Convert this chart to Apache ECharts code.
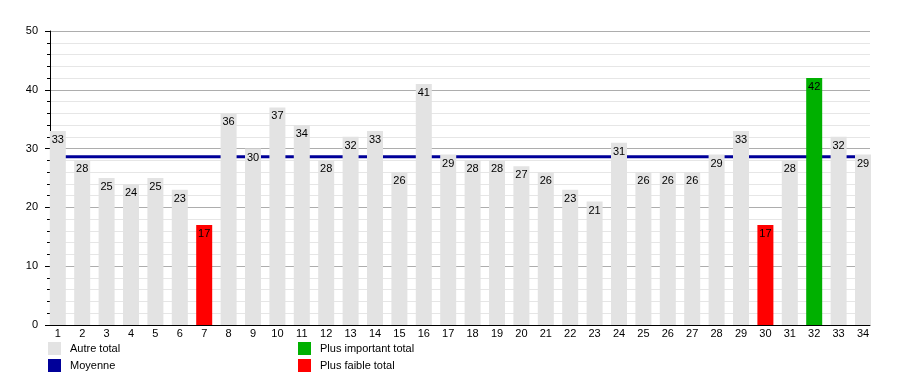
<!DOCTYPE html>
<html>
<head>
<meta charset="utf-8">
<script src="https://cdn.jsdelivr.net/npm/echarts@6/dist/echarts.min.js"></script>
<style>html,body{margin:0;padding:0;background:#fff}#c{width:900px;height:375px}</style>
</head>
<body>
<div id="c"></div>
<script>
const categories = ['1','2','3','4','5','6','7','8','9','10','11','12','13','14','15','16','17','18','19','20','21','22','23','24','25','26','27','28','29','30','31','32','33','34'];
const totals = [33,28,25,24,25,23,17,36,30,37,34,28,32,33,26,41,29,28,28,27,26,23,21,31,26,26,26,29,33,17,28,42,32,29];
const meanValue = 28.6;
const yTicks = [0,10,20,30,40,50];
const seriesNames = ['Autre total','Plus important total','Plus faible total','Moyenne'];

const maxV = Math.max(...totals), minV = Math.min(...totals);
const other = totals.map(v => (v !== maxV && v !== minV) ? v : null);
const highest = totals.map(v => v === maxV ? v : null);
const lowest = totals.map(v => v === minV ? v : null);

const FONT = 'Liberation Sans, Arial, sans-serif';
const step = 24.4;
const plotLeft = 50, plotRight = 870;
const barGridLeft = plotLeft - (step - 16) / 2 - 0.2;

const labelCfg = {show: true, position: 'insideTop', distance: 3.5, fontSize: 11, color: '#000', fontFamily: FONT};

const chart = echarts.init(document.getElementById('c'), null, {renderer: 'canvas'});
chart.setOption({
  animation: false,
  textStyle: {fontFamily: FONT},
  grid: [
    {left: plotLeft, right: 900 - plotRight, top: 31, bottom: 50},
    {left: barGridLeft, width: step * categories.length, top: 31, bottom: 50}
  ],
  xAxis: [
    {type: 'value', gridIndex: 0, min: 0, max: 1, axisLine: {show: true, onZero: false, lineStyle: {color: '#000', width: 1}},
     axisTick: {show: false}, axisLabel: {show: false}, splitLine: {show: false}},
    {type: 'category', gridIndex: 1, data: categories, boundaryGap: true,
     axisLine: {show: false}, axisTick: {show: false},
     axisLabel: {fontSize: 11, color: '#000', margin: 3, interval: 0, fontFamily: FONT}}
  ],
  yAxis: [
    {type: 'value', gridIndex: 0, min: yTicks[0], max: yTicks[yTicks.length - 1], interval: 10,
     axisLine: {show: true, lineStyle: {color: '#000'}},
     axisTick: {show: true, length: 5, lineStyle: {color: '#000'}},
     minorTick: {show: true, splitNumber: 5, length: 3, lineStyle: {color: '#000'}},
     axisLabel: {fontSize: 11, color: '#000', margin: 12, fontFamily: FONT},
     splitLine: {show: true, lineStyle: {color: '#adadad', width: 1}},
     minorSplitLine: {show: true, lineStyle: {color: '#e6e6e6', width: 1}}},
    {type: 'value', gridIndex: 1, min: yTicks[0], max: yTicks[yTicks.length - 1], show: false,
     splitLine: {show: false}}
  ],
  legend: [
    {left: 48, top: 342, orient: 'vertical', icon: 'rect', itemWidth: 13, itemHeight: 13, itemGap: 4, padding: 0,
     data: [seriesNames[0], seriesNames[3]], textStyle: {fontSize: 11, color: '#000', padding: [3,0,0,4], fontFamily: FONT}},
    {left: 298, top: 342, orient: 'vertical', icon: 'rect', itemWidth: 13, itemHeight: 13, itemGap: 4, padding: 0,
     data: [seriesNames[1], seriesNames[2]], textStyle: {fontSize: 11, color: '#000', padding: [3,0,0,4], fontFamily: FONT}}
  ],
  series: [
    {name: seriesNames[3], type: 'line', xAxisIndex: 0, yAxisIndex: 0, z: 1,
     data: [[0, meanValue], [1, meanValue]], showSymbol: false, symbol: 'none',
     lineStyle: {color: '#000099', width: 3}, itemStyle: {color: '#000099'}},
    {name: seriesNames[0], type: 'bar', xAxisIndex: 1, yAxisIndex: 1, z: 3, barWidth: 16, barGap: '-100%',
     data: other, itemStyle: {color: '#e3e3e3'}, label: labelCfg},
    {name: seriesNames[1], type: 'bar', xAxisIndex: 1, yAxisIndex: 1, z: 3, barWidth: 16, barGap: '-100%',
     data: highest, itemStyle: {color: '#00b000'}, label: labelCfg},
    {name: seriesNames[2], type: 'bar', xAxisIndex: 1, yAxisIndex: 1, z: 3, barWidth: 16, barGap: '-100%',
     data: lowest, itemStyle: {color: '#ff0000'}, label: labelCfg}
  ]
});
</script>
</body>
</html>
